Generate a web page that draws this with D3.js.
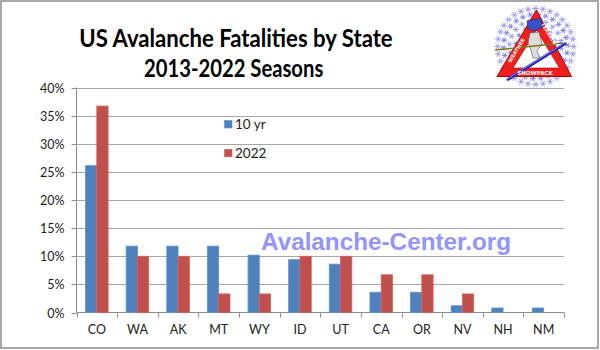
<!DOCTYPE html>
<html><head><meta charset="utf-8">
<script src="https://cdn.jsdelivr.net/npm/d3@7"></script>
<style>
html,body{margin:0;padding:0;background:#fff;}
svg{display:block;}
</style></head>
<body>
<svg id="chart" width="600" height="350"></svg>
<script>
const categories = ["CO","WA","AK","MT","WY","ID","UT","CA","OR","NV","NH","NM"];
const seriesNames = ["10 yr","2022"];
const tenYear = [26.1, 11.8, 11.8, 11.8, 10.2, 9.4, 8.6, 3.6, 3.6, 1.2, 0.8, 0.8];
const year2022 = [36.7, 10.0, 10.0, 3.3, 3.3, 10.0, 10.0, 6.7, 6.7, 3.3, 0, 0];
const yTicks = [0, 5, 10, 15, 20, 25, 30, 35, 40];
const titleLines = ["US Avalanche Fatalities by State", "2013-2022 Seasons"];
const watermark = "Avalanche-Center.org";
const colors = ["#4F81BD", "#C0504D"];

const svg = d3.select("#chart");
const font = "Lato, 'Open Sans', sans-serif";

// outer frame
svg.append("rect").attr("x",1).attr("y",1).attr("width",597).attr("height",347)
  .attr("fill","#fff").attr("stroke","#8a8a8a").attr("stroke-width",1.5);

const plot = {left:76.5, right:564, top:87.5, bottom:312.5};
const x = d3.scaleBand().domain(categories).range([plot.left, plot.right]).padding(0);
const xs = d3.scaleBand().domain(seriesNames).range([0, x.bandwidth()]).paddingInner(0).paddingOuter(0.8);
const y = d3.scaleLinear().domain([0, 40]).range([plot.bottom, plot.top]);

// gridlines
svg.append("g").selectAll("line").data(yTicks.filter(d=>d>0)).join("line")
  .attr("x1", plot.left).attr("x2", plot.right)
  .attr("y1", d=>Math.round(y(d))+0.5).attr("y2", d=>Math.round(y(d))+0.5)
  .attr("stroke","#a6a6a6").attr("stroke-width",1);

// y axis
const yAxis = d3.axisLeft(y).tickValues(yTicks).tickSize(5).tickPadding(7)
  .tickFormat(d => d + "%");
const gy = svg.append("g").attr("transform", `translate(${plot.left},0)`).call(yAxis);
gy.select(".domain").attr("stroke","#8c8c8c").attr("d", `M0,${plot.top}V${plot.bottom}`);
gy.selectAll(".tick line").attr("stroke","#8c8c8c");
gy.selectAll(".tick").attr("transform", d=>`translate(0,${Math.round(y(d))+0.5})`);
gy.selectAll("text").attr("font-family", font).attr("font-size", 12.5).attr("fill","#222").attr("dy","0.36em");

// x axis
const gx = svg.append("g").attr("transform", `translate(0,${plot.bottom})`);
gx.append("line").attr("x1", plot.left).attr("x2", plot.right).attr("y1",0).attr("y2",0).attr("stroke","#8c8c8c");
const bounds = categories.map(c => x(c)).concat([x(categories[categories.length-1]) + x.bandwidth()]);
gx.selectAll("line.tk").data(bounds).join("line").attr("class","tk")
  .attr("x1", d=>Math.round(d)+0.5).attr("x2", d=>Math.round(d)+0.5).attr("y1",0).attr("y2",5)
  .attr("stroke","#8c8c8c");
gx.selectAll("text").data(categories).join("text")
  .attr("x", d => x(d) + x.bandwidth()/2).attr("y", 21.5)
  .attr("text-anchor","middle").attr("font-family", font).attr("font-size", 12.5).attr("fill","#222")
  .text(d => d);

// bars
const seriesData = [tenYear, year2022];
seriesData.forEach((vals, si) => {
  svg.append("g").selectAll("rect").data(categories).join("rect")
    .attr("x", c => x(c) + xs(seriesNames[si]))
    .attr("width", xs.bandwidth())
    .attr("y", (c,i) => y(vals[i]))
    .attr("height", (c,i) => y(0) - y(vals[i]))
    .attr("fill", colors[si])
    .attr("stroke", d3.color(colors[si]).brighter(0.4))
    .attr("stroke-width", 0.8);
});

// legend
const leg = svg.append("g");
seriesNames.forEach((s, i) => {
  const ly = 120.5 + i * 28.8;
  leg.append("rect").attr("x", 224.5).attr("y", ly).attr("width", 7.5).attr("height", 7.5)
    .attr("fill", colors[i]).attr("stroke", d3.color(colors[i]).brighter(0.4)).attr("stroke-width",0.6);
  leg.append("text").attr("x", 235).attr("y", ly + 8.3).attr("font-family", font)
    .attr("font-size", 13.5).attr("fill","#222").text(s);
});

// watermark
svg.append("text").attr("x", 261).attr("y", 249.7)
  .attr("font-family","'Liberation Sans', Arial, sans-serif").attr("font-weight","bold")
  .attr("font-size", 23.5).attr("fill","#9494FF")
  .attr("textLength", 250).attr("lengthAdjust","spacingAndGlyphs")
  .text(watermark);

// title
svg.append("text").attr("x", 79.3).attr("y", 46.7).attr("font-family", font).attr("font-weight","bold")
  .attr("font-size", 25).attr("fill","#000").attr("textLength", 313.4).attr("lengthAdjust","spacingAndGlyphs")
  .text(titleLines[0]);
svg.append("text").attr("x", 144).attr("y", 77.3).attr("font-family", font).attr("font-weight","bold")
  .attr("font-size", 25).attr("fill","#000").attr("textLength", 179.3).attr("lengthAdjust","spacingAndGlyphs")
  .text(titleLines[1]);

// logo (decorative)
const logo = svg.append("g");
const cx = 535.5, cy = 46.5;
function flake(g, px, py, r, col) {
  for (let k = 0; k < 3; k++) {
    const a = k * Math.PI / 3;
    g.append("line").attr("x1", px - r*Math.cos(a)).attr("y1", py - r*Math.sin(a))
      .attr("x2", px + r*Math.cos(a)).attr("y2", py + r*Math.sin(a))
      .attr("stroke", col).attr("stroke-width", 1);
  }
}
const rings = [{r:38,n:32,s:3.2},{r:32,n:26,s:3},{r:26,n:20,s:2.8},{r:20,n:14,s:2.4}];
rings.forEach((ring, ri) => {
  for (let k = 0; k < ring.n; k++) {
    const a = 2*Math.PI*k/ring.n + ri*0.2;
    flake(logo, cx + ring.r*Math.cos(a), cy + ring.r*Math.sin(a), ring.s, ri%2 ? "#7d7df0" : "#9a9af5");
  }
});
// triangle
const tri = [[536.5, 10], [497, 76.5], [571.5, 76.5]];
const inner = [[536.5, 30], [513, 68], [559.5, 68]];
logo.append("path").attr("d", "M" + tri.join("L") + "Z").attr("fill","#f21d1d")
  .attr("stroke","#a00").attr("stroke-width",1).attr("stroke-linejoin","round");
logo.append("path").attr("d", "M" + inner.join("L") + "Z").attr("fill","#fff").attr("stroke","#a00").attr("stroke-width",0.6);
// skier body
logo.append("path").attr("d","M530,33 L539,32 L542,44 L537,51 L540,58 L533,58 L531,50 L528,43 Z")
  .attr("fill","#dcdcdc").attr("stroke","#666").attr("stroke-width",0.7);
logo.append("path").attr("d","M527,21 L541,18 L543,27 L535,31 L528,29 Z").attr("fill","#3a4fc9").attr("stroke","#223").attr("stroke-width",0.5);
// pole
logo.append("line").attr("x1",495).attr("y1",50).attr("x2",563).attr("y2",43).attr("stroke","#7a7a1a").attr("stroke-width",1.5);
// ski
logo.append("line").attr("x1",507).attr("y1",80).attr("x2",566).attr("y2",43).attr("stroke","#2b2bb8").attr("stroke-width",3.2);
logo.append("line").attr("x1",507).attr("y1",79).attr("x2",566).attr("y2",42).attr("stroke","#9a9af0").attr("stroke-width",0.8);
// texts on triangle
logo.append("text").attr("x",535).attr("y",74.5).attr("text-anchor","middle").attr("font-family","'DejaVu Sans', sans-serif")
  .attr("font-weight","bold").attr("font-size",5.5).attr("fill","#fff").text("SNOWPACK");
logo.append("text").attr("transform","translate(511,63) rotate(-59)").attr("font-family","'DejaVu Sans', sans-serif")
  .attr("font-weight","bold").attr("font-size",5).attr("fill","#fff").text("WEATHER");
logo.append("text").attr("transform","translate(541,24) rotate(59)").attr("font-family","'DejaVu Sans', sans-serif")
  .attr("font-weight","bold").attr("font-size",5).attr("fill","#fff").text("TERRAIN");
</script>
</body></html>
